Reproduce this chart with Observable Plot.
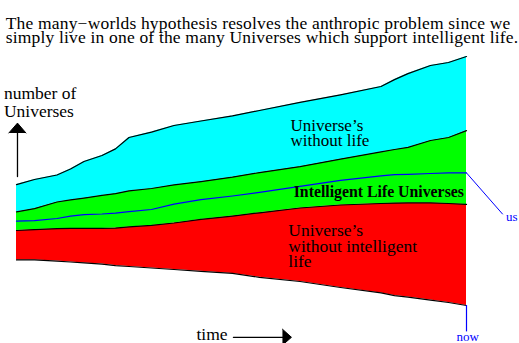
<!DOCTYPE html>
<html><head><meta charset="utf-8">
<script src="https://cdn.jsdelivr.net/npm/d3@7"></script>
<script src="https://cdn.jsdelivr.net/npm/@observablehq/plot@0.6"></script>
<style>body{margin:0;background:#fff} svg{display:block} svg text{font-family:'Liberation Serif',serif}</style>
</head><body><div id="chart"></div>
<script>
// time (arbitrary units, 0 = start, 100 = now)
const time = [0,4,9,12,15,19,22,25,30,35,41,48,54,63,72,81,84,87,92,96,100];
// number of Universes (arbitrary units) — band boundaries
const floorLine      = [20.2,20.2,19.8,19.5,19.2,18.8,18.3,18.0,17.5,17.0,16.4,15.7,14.4,13.0,11.0,9.2,8.3,7.8,6.8,6.0,5.0];
const noIntelTop     = [30.0,30.3,30.6,30.7,30.7,30.7,30.8,31.2,31.7,32.5,33.7,34.8,35.9,37.5,38.5,39.0,39.1,39.2,39.2,39.0,38.7];
const intelTop       = [36.2,37.3,39.5,40.2,40.8,41.7,42.3,43.2,44.0,45.2,46.3,47.8,49.3,51.3,53.8,56.2,57.0,57.7,60.0,61.0,63.3];
const allTop         = [45.3,47.0,48.5,50.5,53.0,55.0,57.2,61.0,62.8,65.0,66.5,68.2,70.0,72.7,75.2,78.0,80.3,82.3,85.0,86.0,88.0];
const usLine         = [33.1,33.3,34.0,34.8,35.3,35.5,35.8,36.3,37.0,38.8,40.3,41.5,42.7,44.7,46.7,48.2,48.6,48.7,49.0,49.2,49.2];

const titleLines = ["The many\u2212worlds hypothesis resolves the anthropic problem since we",
                    "simply live in one of the many Universes which support intelligent life."];
const yLabel = ["number of", "Universes"];
const cyanLabel = ["Universe\u2019s", "without life"];
const greenLabel = ["Intelligent Life Universes"];
const redLabel = ["Universe\u2019s", "without intelligent", "life"];
const usText = ["us"];
const nowText = ["now"];
const timeText = ["time"];

const rows = time.map((t, i) => ({t, b: floorLine[i], r: noIntelTop[i], g: intelTop[i], c: allTop[i], u: usLine[i]}));
const usPointer = [{t: 100, y: 49.2}, {t: 108, y: 35.5}];
const yShaft = [{t: 0.22, y: 48}, {t: 0.22, y: 63}];
const yHead = [{t: -1.7, y: 62.5}, {t: 0.22, y: 65.8}, {t: 2.1, y: 62.5}];
const xShaft = [{t: 48.2, y: -5.6}, {t: 59.5, y: -5.6}];
const xHead = [{t: 59.1, y: -2.9}, {t: 61.1, y: -5.6}, {t: 59.1, y: -8.2}];

const serif = "'Liberation Serif', serif";
const T = {textAnchor: "start", lineAnchor: "bottom", fontFamily: serif, fill: "black", text: d => d};
const plot = Plot.plot({
  width: 519, height: 343,
  marginLeft: 16, marginRight: 53, marginTop: 20, marginBottom: 23,
  x: {domain: [0, 100], axis: null},
  y: {domain: [0, 100], axis: null},
  style: "font-family: 'Liberation Serif', serif; background: white; overflow: visible;",
  marks: [
    Plot.areaY(rows, {x: "t", y1: "b", y2: "r", fill: "#ff0000"}),
    Plot.areaY(rows, {x: "t", y1: "r", y2: "g", fill: "#00ff00"}),
    Plot.areaY(rows, {x: "t", y1: "g", y2: "c", fill: "#00ffff"}),
    Plot.lineY(rows, {x: "t", y: "b", stroke: "black", strokeWidth: 1.2}),
    Plot.lineY(rows, {x: "t", y: "r", stroke: "black", strokeWidth: 1.2}),
    Plot.lineY(rows, {x: "t", y: "g", stroke: "black", strokeWidth: 1.2}),
    Plot.lineY(rows, {x: "t", y: "c", stroke: "black", strokeWidth: 1.2}),
    Plot.lineY(rows, {x: "t", y: "u", stroke: "#0000ff", strokeWidth: 1.2}),
    Plot.line(usPointer, {x: "t", y: "y", stroke: "#0000ff", strokeWidth: 1}),
    Plot.ruleX([100], {y1: 5, y2: -3.8, stroke: "#0000ff", strokeWidth: 1.2}),
    Plot.line(yShaft, {x: "t", y: "y", stroke: "black", strokeWidth: 1.3}),
    Plot.line(yHead, {x: "t", y: "y", fill: "black", stroke: "black", strokeWidth: 1}),
    Plot.line(xShaft, {x: "t", y: "y", stroke: "black", strokeWidth: 1.3}),
    Plot.line(xHead, {x: "t", y: "y", fill: "black", stroke: "black", strokeWidth: 1}),
    Plot.text(titleLines, {...T, x: () => -2.4, y: (d, i) => 97.2 - 4.8 * i, fontSize: 17.5}),
    Plot.text(yLabel, {...T, x: () => -2.8, y: (d, i) => 73.7 - 5.8 * i, fontSize: 17.5}),
    Plot.text(cyanLabel, {...T, x: () => 60.9, y: (d, i) => 63.1 - 4.8 * i, fontSize: 17}),
    Plot.text(greenLabel, {...T, x: () => 61.6, y: () => 41.1, fontSize: 15.8, fontWeight: "bold"}),
    Plot.text(redLabel, {...T, x: () => 60.4, y: (d, i) => 28.3 - 5.3 * i, fontSize: 17.5}),
    Plot.text(usText, {...T, x: () => 108.8, y: () => 33.3, fontSize: 13, fill: "#0000ff"}),
    Plot.text(nowText, {...T, x: () => 97.8, y: () => -6.7, fontSize: 13, fill: "#0000ff"}),
    Plot.text(timeText, {...T, x: () => 40, y: () => -6.5, fontSize: 17.5})
  ]
});
d3.select(plot).selectAll("text").filter(function() { return titleLines.includes(this.textContent); })
  .style("letter-spacing", "0.18px");
document.getElementById("chart").appendChild(plot);
</script>
</body></html>
